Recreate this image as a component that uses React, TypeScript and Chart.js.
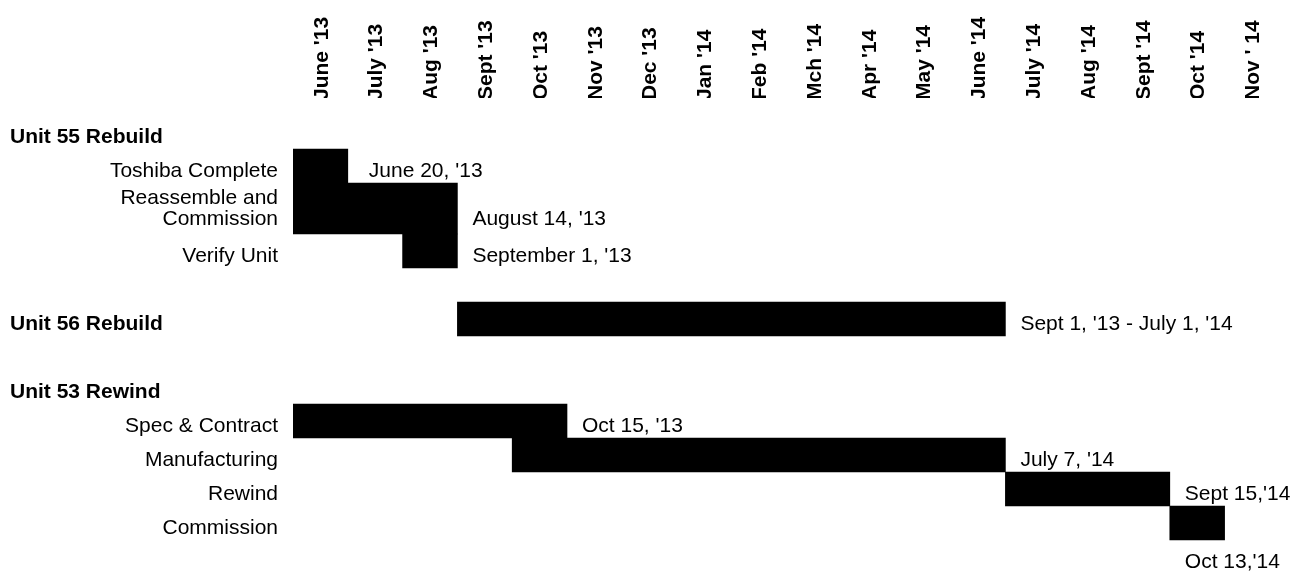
import React, { useEffect, useRef } from 'react';
import { Chart, registerables } from 'chart.js';

Chart.register(...registerables);

// ---------- data ----------
const MONTHS: string[] = [
  "June '13", "July '13", "Aug '13", "Sept '13", "Oct '13", "Nov '13", "Dec '13",
  "Jan '14", "Feb '14", "Mch '14", "Apr '14", "May '14", "June '14", "July '14",
  "Aug '14", "Sept '14", "Oct '14", "Nov ' 14",
];

const GROUPS: string[] = ['Unit 55 Rebuild', 'Unit 56 Rebuild', 'Unit 53 Rewind'];
const GROUP_ROW: number[] = [-2, 9, 13];

const TASK_LABELS: (string | string[])[] = [
  'Toshiba Complete',
  ['Reassemble and', 'Commission'],
  'Verify Unit',
  '',
  'Spec & Contract',
  'Manufacturing',
  'Rewind',
  'Commission',
];
// month index on the timeline (0 = start of June '13)
const TASK_START: number[] = [0, 0, 2, 3, 0, 4, 13, 16];
const TASK_END: number[] = [1, 3, 3, 13, 5, 13, 16, 17];
// row centre and row height, in half-row units
const TASK_ROW: number[] = [0, 2.5, 5, 9, 15, 17, 19, 21];
const TASK_SPAN: number[] = [2, 3, 2, 2, 2, 2, 2, 2];

const NOTE_TEXT: string[] = [
  "June 20, '13",
  "August 14, '13",
  "September 1, '13",
  "Sept 1, '13 - July 1, '14",
  "Oct 15, '13",
  "July 7, '14",
  "Sept 15,'14",
  "Oct 13,'14",
];
const NOTE_TASK: number[] = [0, 1, 2, 3, 4, 5, 6, 7];
const NOTE_PLACE: string[] = ['end', 'end', 'end', 'end', 'end', 'end', 'end', 'below'];

// ---------- style ----------
const FONT = '"Liberation Sans", Arial, sans-serif';
const FONT_SIZE = 21;
const LABEL_SHIFT = 0.3;
const NOTE_PAD = [21, 15, 15, 15, 15, 15, 15, 15];
const HEADER_X = 10;
const ROW_MIN = -4;
const ROW_MAX = 24;

const isMulti = (l: string | string[]) => Array.isArray(l);
const labelValue = (i: number) => TASK_ROW[i] + (isMulti(TASK_LABELS[i]) ? 0 : LABEL_SHIFT);

const overlayPlugin = {
  id: 'overlay',
  afterDraw(chart: any) {
    const { ctx } = chart;
    const xs = chart.scales.x;
    const ys = chart.scales.y;
    ctx.save();
    ctx.fillStyle = '#000';
    ctx.textBaseline = 'middle';
    ctx.textAlign = 'left';
    ctx.font = `bold ${FONT_SIZE}px ${FONT}`;
    GROUPS.forEach((g, i) => {
      ctx.fillText(g, HEADER_X, ys.getPixelForValue(GROUP_ROW[i] + LABEL_SHIFT));
    });
    ctx.font = `${FONT_SIZE}px ${FONT}`;
    NOTE_TEXT.forEach((t, k) => {
      const i = NOTE_TASK[k];
      let px: number;
      let py: number;
      if (NOTE_PLACE[k] === 'below') {
        px = xs.getPixelForValue(TASK_START[i]) + NOTE_PAD[k];
        py = ys.getPixelForValue(TASK_ROW[i] + TASK_SPAN[i] + LABEL_SHIFT);
      } else {
        px = xs.getPixelForValue(TASK_END[i]) + NOTE_PAD[k];
        const lab = TASK_LABELS[i];
        const lines = Array.isArray(lab) ? lab.length : 1;
        py = ys.getPixelForValue(labelValue(i)) + ((lines - 1) * FONT_SIZE) / 2;
      }
      ctx.fillText(t, px, py);
    });
    ctx.restore();
  },
};

const zeroPad = (s: any) => {
  s.paddingTop = 0;
  s.paddingBottom = 0;
  s.paddingLeft = 0;
  s.paddingRight = 0;
};

export default function App() {
  const ref = useRef<HTMLCanvasElement | null>(null);

  useEffect(() => {
    document.body.style.margin = '0';
    const canvas = ref.current;
    if (!canvas) return;
    Chart.defaults.font.family = FONT;
    Chart.defaults.color = '#000';

    const normalIdx = TASK_ROW.map((_, i) => i).filter((i) => TASK_SPAN[i] === 2);
    const tallIdx = TASK_ROW.map((_, i) => i).filter((i) => TASK_SPAN[i] !== 2);
    const tickIdx = TASK_LABELS.map((_, i) => i).filter((i) => TASK_LABELS[i] !== '');

    const chart = new Chart(canvas, {
      type: 'bar',
      data: {
        datasets: [
          {
            label: 'tasks',
            data: normalIdx.map((i) => ({ x: [TASK_START[i], TASK_END[i]], y: TASK_ROW[i] })) as any,
            backgroundColor: '#000',
            borderWidth: 0,
            barPercentage: 1,
            categoryPercentage: 1,
            grouped: false,
            yAxisID: 'y',
          },
          {
            label: 'tall',
            data: tallIdx.map((i) => ({ x: [TASK_START[i], TASK_END[i]], y: TASK_ROW[i] })) as any,
            backgroundColor: '#000',
            borderWidth: 0,
            barPercentage: 1,
            categoryPercentage: 1,
            grouped: false,
            yAxisID: 'y2',
          },
        ],
      },
      options: {
        indexAxis: 'y',
        responsive: false,
        animation: false,
        devicePixelRatio: 1,
        layout: { padding: { left: 0, top: 0, right: 28.6, bottom: 0 } },
        plugins: {
          legend: { display: false },
          tooltip: { enabled: false },
          title: { display: false },
        },
        scales: {
          x: {
            type: 'linear',
            position: 'top',
            min: 0,
            max: MONTHS.length,
            offset: false,
            grid: { display: false, drawTicks: false, tickLength: 0 },
            border: { display: false },
            afterBuildTicks: (s: any) => {
              s.ticks = MONTHS.map((_, i) => ({ value: i + 0.5 }));
            },
            afterFit: (s: any) => {
              s.height = 98;
              zeroPad(s);
            },
            ticks: {
              autoSkip: false,
              minRotation: 90,
              maxRotation: 90,
              padding: -2,
              labelOffset: FONT_SIZE * 1.2 + 1.5,
              color: '#000',
              font: { size: FONT_SIZE, weight: 'bold', family: FONT },
              callback: (_v: any, i: number) => MONTHS[i],
            },
          },
          y: {
            type: 'linear',
            position: 'left',
            reverse: true,
            min: ROW_MIN,
            max: ROW_MAX,
            offset: false,
            bounds: 'data',
            grid: { display: false, drawTicks: false, tickLength: 0 },
            border: { display: false },
            afterBuildTicks: (s: any) => {
              s.ticks = tickIdx.map((i) => ({ value: labelValue(i) }));
            },
            afterFit: (s: any) => {
              s.width = 293;
              zeroPad(s);
            },
            ticks: {
              autoSkip: false,
              padding: 15,
              color: '#000',
              font: { size: FONT_SIZE, family: FONT, lineHeight: 1 },
              callback: (_v: any, i: number) => TASK_LABELS[tickIdx[i]],
            },
          },
          y2: {
            type: 'linear',
            position: 'left',
            display: false,
            reverse: true,
            min: ROW_MIN,
            max: ROW_MAX,
            offset: false,
            bounds: 'data',
            grid: { display: false, drawTicks: false, tickLength: 0 },
            afterBuildTicks: (s: any) => {
              const t: any[] = [];
              tallIdx.forEach((i) => {
                t.push({ value: TASK_ROW[i] - TASK_SPAN[i] / 2 });
                t.push({ value: TASK_ROW[i] + TASK_SPAN[i] / 2 });
              });
              s.ticks = t;
            },
            afterFit: (s: any) => {
              zeroPad(s);
            },
          },
        },
      } as any,
      plugins: [overlayPlugin],
    });

    return () => chart.destroy();
  }, []);

  return <canvas ref={ref} width={1308} height={574} style={{ display: 'block' }} />;
}
